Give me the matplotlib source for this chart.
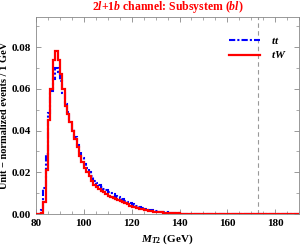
import numpy as np
import matplotlib.pyplot as plt
from matplotlib.ticker import MultipleLocator

plt.rcParams['font.family'] = ['Liberation Serif', 'DejaVu Serif']
plt.rcParams['mathtext.fontset'] = 'custom'
plt.rcParams['mathtext.rm'] = 'Liberation Serif:bold'
plt.rcParams['mathtext.it'] = 'Liberation Serif:italic:bold'
plt.rcParams['mathtext.bf'] = 'Liberation Serif:bold'

# 1 GeV bins, left edges 80 ... 189
edges = np.arange(80, 191)

# tW (red), bins starting at 80 GeV
tw_vals = [0, 0, 0.0005, 0.006, 0.021, 0.045, 0.060, 0.074, 0.078, 0.074,
           0.067, 0.060, 0.052, 0.048, 0.044, 0.040, 0.036, 0.032, 0.028, 0.025,
           0.022, 0.020, 0.018, 0.016, 0.014, 0.013, 0.012, 0.011, 0.0105, 0.0095,
           0.0088, 0.0082, 0.0078, 0.0072, 0.0066, 0.0062, 0.0058, 0.0052, 0.0046, 0.0040,
           0.0036, 0.0032, 0.0028, 0.0024, 0.0022, 0.0019, 0.0017, 0.0015, 0.0013, 0.0011,
           0.0010, 0.0009, 0.0008, 0.0007, 0.0006, 0.0005, 0.0004, 0.0004, 0.0003, 0.0003,
           0.0002, 0.0002, 0.0002, 0.0001, 0.0001, 0.0001]
# tt (blue)
tt_vals = [0, 0, 0.002, 0.0125, 0.029, 0.0485, 0.059, 0.065, 0.070, 0.068,
           0.064, 0.058, 0.053, 0.049, 0.044, 0.041, 0.037, 0.033, 0.030, 0.027,
           0.024, 0.022, 0.020, 0.018, 0.016, 0.015, 0.014, 0.013, 0.0122, 0.0115,
           0.0108, 0.0100, 0.0094, 0.0088, 0.0082, 0.0076, 0.0070, 0.0064, 0.0058, 0.0053,
           0.0048, 0.0043, 0.0038, 0.0034, 0.0030, 0.0026, 0.0023, 0.0020, 0.0018, 0.0016,
           0.0014, 0.0012, 0.0010, 0.0009, 0.0008, 0.0007, 0.0006, 0.0005, 0.0004, 0.0004,
           0.0003, 0.0002, 0.0002, 0.0001, 0.0001, 0.0001]

nb = len(edges) - 1
tw = np.zeros(nb); tw[:len(tw_vals)] = tw_vals
tt = np.zeros(nb); tt[:len(tt_vals)] = tt_vals

fig = plt.figure(figsize=(3.0, 2.46), dpi=100)
ax = fig.add_axes([0.12, 0.13, 0.877, 0.80])

ax.axvline(173, color='#999999', ls=(0, (4, 3)), lw=0.8, zorder=1)
ax.stairs(tt, edges, color='#0000ff', lw=1.5, ls=(0, (3, 1, 1, 1)), label=r'$tt$', zorder=2)
ax.stairs(tw, edges, color='#ff0000', lw=1.6, label=r'$tW$', zorder=3)

ax.set_xlim(80, 190)
ax.set_ylim(0, 0.0944)
ax.xaxis.set_major_locator(MultipleLocator(20))
ax.xaxis.set_minor_locator(MultipleLocator(5))
ax.yaxis.set_major_locator(MultipleLocator(0.02))
ax.yaxis.set_minor_locator(MultipleLocator(0.01))
ax.yaxis.set_major_formatter(plt.FuncFormatter(lambda v, p: f'{v:.2f}'))
ax.tick_params(which='both', direction='in', top=True, right=True, labelsize=8, color='#888888')
ax.tick_params(which='major', length=3.5, width=0.6)
ax.tick_params(which='minor', length=2, width=0.5)
for lab in ax.get_xticklabels() + ax.get_yticklabels():
    lab.set_fontweight('bold')
for s in ax.spines.values():
    s.set_color('#888888')
    s.set_linewidth(0.6)

ax.set_xlabel(r'$M_{T2}$ (GeV)', fontsize=8, fontweight='bold', labelpad=3)
ax.set_ylabel('Unit \u2212 normalized events / 1 GeV', fontsize=7.5, fontweight='bold', labelpad=2)
ax.set_title(r'$2l$+$1b$ channel: Subsystem ($bl$)', color='#ff0000', fontsize=8.5,
             fontweight='bold', pad=5)

ax.legend(loc='upper right', bbox_to_anchor=(0.99, 0.96), frameon=False, fontsize=8,
          handlelength=2.8, handletextpad=1.0, labelspacing=0.3)

fig.savefig('out.png', dpi=100)
